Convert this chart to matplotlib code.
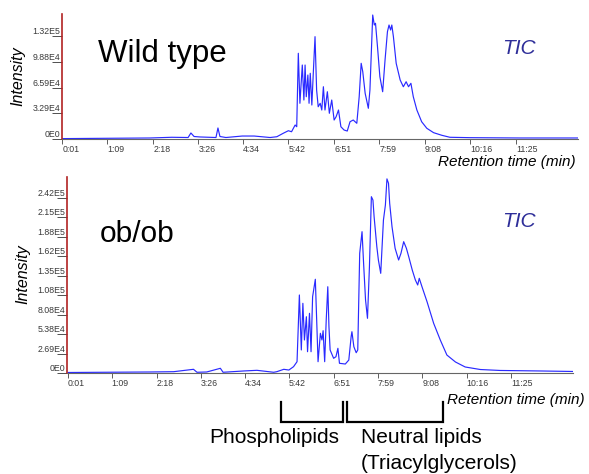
import matplotlib.pyplot as plt

plt.rcParams['font.family'] = ['Liberation Sans', 'DejaVu Sans']

# --- data (time in min, intensity in counts) ---
wt_time = [0.02, 2.22, 2.77, 3.18, 3.25, 3.33, 3.48, 3.88, 3.93, 3.98, 4.13, 4.54,
           4.84, 5.24, 5.41, 5.57, 5.70, 5.78, 5.87, 5.91, 5.95, 5.99, 6.05, 6.09,
           6.12, 6.15, 6.19, 6.22, 6.25, 6.29, 6.33, 6.37, 6.41, 6.45, 6.50, 6.54,
           6.58, 6.62, 6.68, 6.73, 6.79, 6.85, 6.90, 6.96, 7.02, 7.10, 7.18, 7.25,
           7.33, 7.42, 7.48, 7.53, 7.57, 7.63, 7.71, 7.75, 7.80, 7.82, 7.86, 7.89,
           7.94, 8.00, 8.07, 8.13, 8.19, 8.23, 8.27, 8.30, 8.34, 8.41, 8.51, 8.59,
           8.66, 8.72, 8.78, 8.84, 8.93, 9.05, 9.18, 9.35, 9.56, 9.76, 10.27, 11.52,
           12.98]
wt_int = [500, 1300, 2200, 1900, 7700, 3200, 2600, 1900, 14100, 3200, 1900, 3800,
          3800, 1900, 2900, 7300, 10600, 9300, 17900, 15700, 109700, 45700, 94700, 49900,
          94700, 54100, 81900, 45700, 84100, 43500, 88300, 131000, 62700, 41300, 45700, 37100,
          66900, 37100, 60500, 32900, 49900, 24300, 28500, 37100, 15700, 11500, 10200, 22100,
          24300, 20100, 54100, 96900, 86100, 58500, 39300, 62700, 131000, 158700, 145900, 148100,
          118100, 79700, 60500, 101100, 137300, 145900, 139500, 145900, 131000, 96900, 75500, 66900,
          73300, 66900, 71300, 54100, 37100, 22100, 13700, 8100, 4700, 2200, 1700, 1300,
          1300]

ob_time = [0.03, 2.14, 2.74, 3.25, 3.34, 3.59, 3.94, 4.01, 4.54, 4.88, 5.31, 5.39,
           5.57, 5.70, 5.82, 5.91, 5.97, 6.02, 6.06, 6.10, 6.15, 6.18, 6.23, 6.27,
           6.31, 6.38, 6.45, 6.51, 6.55, 6.58, 6.62, 6.66, 6.70, 6.73, 6.76, 6.85,
           6.91, 6.96, 7.00, 7.15, 7.24, 7.30, 7.32, 7.37, 7.43, 7.47, 7.52, 7.58,
           7.62, 7.67, 7.72, 7.77, 7.82, 7.86, 7.89, 7.96, 8.00, 8.06, 8.13, 8.18,
           8.22, 8.26, 8.29, 8.35, 8.43, 8.52, 8.58, 8.65, 8.72, 8.78, 8.87, 8.95,
           9.01, 9.05, 9.12, 9.25, 9.42, 9.59, 9.76, 9.98, 10.23, 10.62, 11.13, 12.16,
           13.0]
ob_int = [700, 1400, 1800, 5100, 1000, 1400, 6500, 1000, 2800, 3700, 1000, 1800,
          5100, 4100, 8700, 15600, 107700, 31800, 96200, 45600, 77700, 29400, 82400, 29400,
          105300, 129400, 15600, 54800, 45600, 58400, 15600, 73200, 119100, 63900, 31800, 20300,
          22500, 34100, 13400, 12400, 17900, 50100, 57000, 36300, 28000, 31800, 165200, 195100,
          151400, 100800, 75500, 146800, 243400, 238800, 215800, 174400, 156000, 137600, 211200, 231900,
          268000, 261900, 234300, 202000, 172100, 156000, 165200, 181300, 172100, 160500, 142200, 128400,
          121500, 130700, 119100, 98400, 68600, 45600, 24800, 15200, 8300, 4800, 3500, 2800,
          2100]

tick_sec = [1, 69, 138, 206, 274, 342, 411, 479, 548, 616, 685]
tick_lbl = ['0:01', '1:09', '2:18', '3:26', '4:34', '5:42', '6:51', '7:59',
            '9:08', '10:16', '11:25']

wt_yticks = [0, 32950, 65900, 98850, 131800]
wt_ylbl = ['0E0', '3.29E4', '6.59E4', '9.88E4', '1.32E5']
ob_yticks = [0, 26920, 53840, 80760, 107680, 134600, 161520, 188440, 215360, 242280]
ob_ylbl = ['0E0', '2.69E4', '5.38E4', '8.08E4', '1.08E5', '1.35E5', '1.62E5',
           '1.88E5', '2.15E5', '2.42E5']

W, H = 589, 474
fig = plt.figure(figsize=(W / 100, H / 100), dpi=100)


def box(l, t, r, b):
    return [l / W, 1 - b / H, (r - l) / W, (b - t) / H]


def fx(x):
    return x / W


def fy(y):
    return 1 - y / H


def style(ax, yticks, ylbl, ylim, xlim):
    ax.set_xlim(*xlim)
    ax.set_ylim(*ylim)
    for s in ['top', 'right']:
        ax.spines[s].set_visible(False)
    ax.spines['left'].set_color('#b22222')
    ax.spines['left'].set_linewidth(1.2)
    ax.spines['bottom'].set_color('#666666')
    ax.spines['bottom'].set_linewidth(0.8)
    ax.set_xticks([s / 60 for s in tick_sec])
    ax.set_xticklabels(tick_lbl)
    ax.set_yticks(yticks)
    ax.set_yticklabels(ylbl)
    ax.tick_params(axis='x', length=3.5, width=0.6, color='#444444', pad=1,
                   labelsize=6.3, labelcolor='#3a3a3a')
    ax.tick_params(axis='y', length=7.5, width=0.6, color='#333333', pad=-6.2,
                   labelsize=6.3, labelcolor='#3a3a3a')
    for t in ax.get_xticklabels():
        t.set_horizontalalignment('left')
    for t in ax.get_yticklabels():
        t.set_verticalalignment('bottom')


ax1 = fig.add_axes(box(62, 14, 578, 139))
ax1.plot(wt_time, wt_int, color='#2a2aff', lw=0.85)
style(ax1, wt_yticks, wt_ylbl, (0, 160000), (0.01, 12.98))

ax2 = fig.add_axes(box(67, 177, 573, 373))
ax2.plot(ob_time, ob_int, color='#2a2aff', lw=0.85)
style(ax2, ob_yticks, ob_ylbl, (0, 270600), (0.0, 13.0))

# labels
fig.text(fx(98), fy(62), 'Wild type', fontsize=22.5, va='baseline', ha='left')
fig.text(fx(100), fy(242), 'ob/ob', fontsize=21.5, va='baseline', ha='left')
for yb in [54, 227]:
    fig.text(fx(502), fy(yb), 'TIC', fontsize=15, style='italic',
             color='#2e2e99', va='baseline', ha='left')
fig.text(fx(18), fy(76), 'Intensity', fontsize=11.5, style='italic',
         rotation=90, ha='center', va='center')
fig.text(fx(23), fy(274), 'Intensity', fontsize=11.5, style='italic',
         rotation=90, ha='center', va='center')
fig.text(fx(576), fy(166), 'Retention time (min)', fontsize=11, style='italic',
         ha='right', va='baseline')
fig.text(fx(585), fy(404), 'Retention time (min)', fontsize=11, style='italic',
         ha='right', va='baseline')

# brackets under the lower trace
for l, r in [(281, 343), (347, 443)]:
    fig.add_artist(plt.Line2D([fx(l), fx(l), fx(r), fx(r)],
                              [fy(402), fy(422), fy(422), fy(402)],
                              color='black', lw=1.6, solid_joinstyle='miter'))
fig.text(fx(274.5), fy(443), 'Phospholipids', fontsize=15, ha='center', va='baseline')
fig.text(fx(361), fy(443), 'Neutral lipids', fontsize=15, ha='left', va='baseline')
fig.text(fx(361), fy(469), '(Triacylglycerols)', fontsize=15, ha='left', va='baseline')

fig.savefig('out.png', dpi=100)
